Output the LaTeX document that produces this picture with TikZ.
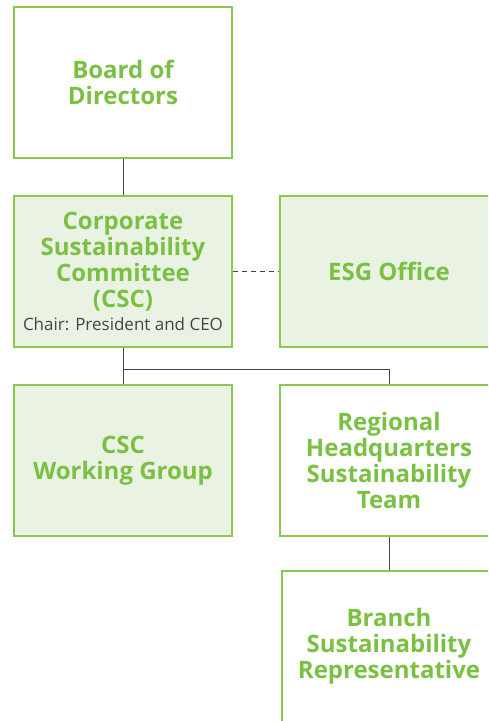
\documentclass[tikz,border=0pt]{standalone}
\usepackage{fontspec}
\setmainfont{Open Sans}
\usepackage{xcolor}
\usetikzlibrary{positioning}
\definecolor{verde}{HTML}{7AC143}
\definecolor{bordo}{HTML}{8CC84B}
\definecolor{sfondo}{HTML}{EAF2E4}
\definecolor{linea}{HTML}{444444}
\tikzset{
    casella/.style = {draw = bordo, line width = 2pt, minimum width = 218pt, minimum height = 151pt,
        inner sep = 0pt, align = center, text = verde, font = \bfseries\fontsize{24}{26}\selectfont},
    piena/.style = {casella, fill = sfondo},
    filo/.style = {draw = linea, line width = 1pt}
}

\begin{document}
\begin{tikzpicture}[x = 1pt, y = -1pt]
    % Parametri
    \pgfmathsetmacro{\gapv}{36}
    \pgfmathsetmacro{\gapo}{46}
    
    % Cornice
    \useasboundingbox (0,0) rectangle (488,721);
    \clip (0,0) rectangle (488,721);
    
    % Caselle
    \node[casella] (cda) at (123,82.5) {Board of\\Directors};
    \node[piena, below = \gapv pt of cda] (csc) {Corporate\\Sustainability\\Committee\\(CSC)\\[-3pt]{\mdseries\color{linea}\fontsize{17}{18}\selectfont Chair: President and CEO}};
    \node[piena, right = \gapo pt of csc] (esg) {ESG Office};
    \node[piena, below = \gapv pt of csc] (wg) {CSC\\Working Group};
    \node[casella, right = \gapo pt of wg] (reg) {Regional\\Headquarters\\Sustainability\\Team};
    \node[casella, below = 33pt of reg, minimum width = 214pt] (fil) {Branch\\Sustainability\\Representative};
    
    % Collegamenti
    \coordinate (snodo) at ([yshift = -21pt]csc.south);
    \draw[filo] (cda) -- (csc);
    \draw[filo, dash pattern = on 5pt off 4pt] (csc) -- (esg);
    \draw[filo] (csc) -- (wg);
    \draw[filo] (snodo) -| (reg);
    \draw[filo] (reg) -- (fil);
\end{tikzpicture}
\end{document}
